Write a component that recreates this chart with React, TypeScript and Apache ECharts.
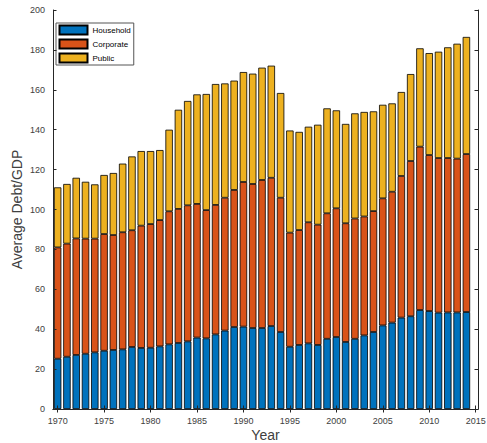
import React, { useEffect, useRef } from "react";
import * as echarts from "echarts";

const years = [
  1970, 1971, 1972, 1973, 1974, 1975, 1976, 1977, 1978, 1979,
  1980, 1981, 1982, 1983, 1984, 1985, 1986, 1987, 1988, 1989,
  1990, 1991, 1992, 1993, 1994, 1995, 1996, 1997, 1998, 1999,
  2000, 2001, 2002, 2003, 2004, 2005, 2006, 2007, 2008, 2009,
  2010, 2011, 2012, 2013, 2014,
];

const household = [
  25.2, 26.2, 27.1, 27.7, 28.4, 29.2, 29.6, 29.9, 31.1, 30.6,
  30.7, 31.4, 32.4, 33.1, 33.9, 35.8, 35.4, 37.4, 39.3, 41.1,
  41.3, 40.6, 40.6, 41.6, 38.6, 31.2, 32.1, 32.9, 32.1, 35.2,
  36.1, 33.6, 35.2, 36.9, 38.6, 41.9, 43.3, 45.8, 46.5, 49.6,
  49.1, 48.3, 48.4, 48.4, 48.6,
];

const corporate = [
  55.8, 56.7, 58.4, 57.7, 57.0, 58.5, 57.6, 58.7, 58.5, 61.3,
  62.0, 63.3, 66.7, 67.2, 68.2, 67.0, 64.3, 64.9, 66.6, 68.7,
  72.5, 72.2, 74.2, 74.3, 67.3, 57.2, 57.6, 60.7, 60.3, 62.9,
  64.5, 59.5, 60.3, 59.6, 60.6, 63.7, 65.6, 71.0, 77.8, 81.9,
  78.2, 77.5, 77.4, 77.1, 79.2,
];

const publicDebt = [
  30.1, 29.9, 30.4, 28.5, 27.2, 29.6, 31.1, 34.4, 37.0, 37.4,
  36.6, 35.1, 40.9, 49.7, 52.3, 54.9, 58.2, 60.6, 57.3, 54.8,
  55.1, 55.3, 56.3, 56.2, 52.5, 51.2, 49.2, 47.9, 50.1, 52.6,
  49.1, 49.8, 52.7, 52.4, 50.0, 46.9, 44.3, 42.1, 43.6, 49.3,
  51.1, 53.3, 55.5, 57.6, 58.7,
];

const xTicks = [1970, 1975, 1980, 1985, 1990, 1995, 2000, 2005, 2010, 2015];

const seriesNames = ["Household", "Corporate", "Public"];
const seriesColors = ["#0072BD", "#D95319", "#EDB120"];

const FONT = "Liberation Sans, Arial, Helvetica, sans-serif";
const AXIS_COLOR = "#262626";

export default function App() {
  const ref = useRef<HTMLDivElement>(null);

  useEffect(() => {
    if (!ref.current) return;
    const chart = echarts.init(ref.current, undefined, { renderer: "svg" });

    const dataSets = [household, corporate, publicDebt];

    const xMin = 1969.5;
    const xMax = 2015.25;
    const gridLeft = 53;
    const gridRight = 9;
    const plotWidth = 487 - gridLeft - gridRight;
    const pxPerYear = plotWidth / (xMax - xMin);
    const barGridWidth = pxPerYear * years.length;

    const option: any = {
      animation: false,
      backgroundColor: "#ffffff",
      textStyle: { fontFamily: FONT },
      grid: [
        { left: gridLeft, right: gridRight, top: 10, bottom: 34, containLabel: false, outerBoundsMode: "none" },
        { left: gridLeft, width: barGridWidth, top: 10, bottom: 34, containLabel: false, outerBoundsMode: "none" },
      ],
      legend: {
        orient: "vertical",
        left: 56,
        top: 23,
        padding: [1.5, 3, 1.5, 2.5],
        itemGap: 3,
        itemWidth: 28,
        itemHeight: 9,
        icon: "rect",
        borderColor: "#555",
        borderWidth: 1,
        backgroundColor: "#fff",
        textStyle: { fontSize: 8, color: "#000", fontFamily: FONT },
        data: seriesNames,
      },
      xAxis: [
        {
          type: "value",
          gridIndex: 0,
          min: xMin,
          max: xMax,
          position: "bottom",
          name: "Year",
          nameLocation: "middle",
          nameGap: 19,
          nameMoveOverlap: false,
          nameTextStyle: { fontSize: 14, lineHeight: 14, color: "#404040", fontFamily: FONT },
          axisLine: { show: true, lineStyle: { color: AXIS_COLOR, width: 1 } },
          axisTick: {
            show: true,
            inside: true,
            length: 3.5,
            customValues: xTicks,
            lineStyle: { color: AXIS_COLOR },
          },
          axisLabel: {
            show: true,
            customValues: xTicks,
            fontSize: 9,
            color: "#404040",
            margin: 7,
            fontFamily: FONT,
            formatter: (v: number) => String(v),
          },
          splitLine: { show: false },
          z: 10,
        },
        {
          type: "value",
          gridIndex: 0,
          min: xMin,
          max: xMax,
          position: "top",
          axisLine: { show: true, lineStyle: { color: AXIS_COLOR, width: 1 } },
          axisTick: {
            show: true,
            inside: true,
            length: 3.5,
            customValues: xTicks,
            lineStyle: { color: AXIS_COLOR },
          },
          axisLabel: { show: false },
          splitLine: { show: false },
          z: 10,
        },
        {
          type: "category",
          gridIndex: 1,
          data: years.map(String),
          boundaryGap: true,
          show: false,
        },
      ],
      yAxis: [
        {
          type: "value",
          gridIndex: 0,
          min: 0,
          max: 200,
          interval: 20,
          position: "left",
          name: "Average Debt/GDP",
          nameLocation: "middle",
          nameGap: 29,
          nameMoveOverlap: false,
          nameTextStyle: { fontSize: 14, lineHeight: 15, color: "#404040", fontFamily: FONT },
          axisLine: { show: true, lineStyle: { color: AXIS_COLOR, width: 1 } },
          axisTick: { show: true, inside: true, length: 3.5, lineStyle: { color: AXIS_COLOR } },
          axisLabel: { fontSize: 9, color: "#404040", margin: 8, fontFamily: FONT },
          splitLine: { show: false },
          z: 10,
        },
        {
          type: "value",
          gridIndex: 0,
          min: 0,
          max: 200,
          interval: 20,
          position: "right",
          axisLine: { show: true, lineStyle: { color: AXIS_COLOR, width: 1 } },
          axisTick: { show: true, inside: true, length: 3.5, lineStyle: { color: AXIS_COLOR } },
          axisLabel: { show: false },
          splitLine: { show: false },
          z: 10,
        },
        {
          type: "value",
          gridIndex: 1,
          min: 0,
          max: 200,
          show: false,
          splitLine: { show: false },
        },
      ],
      series: seriesNames.map((name, si) => ({
        name,
        type: "bar",
        stack: "debt",
        xAxisIndex: 2,
        yAxisIndex: 2,
        barWidth: "80%",
        itemStyle: { color: seriesColors[si], borderColor: "#000", borderWidth: 0.8 },
        emphasis: { disabled: true },
        data: dataSets[si],
      })),
    };

    chart.setOption(option);
    return () => chart.dispose();
  }, []);

  return (
    <div
      ref={ref}
      style={{ position: "fixed", left: 0, top: 0, width: 487, height: 443, background: "#fff" }}
    />
  );
}
